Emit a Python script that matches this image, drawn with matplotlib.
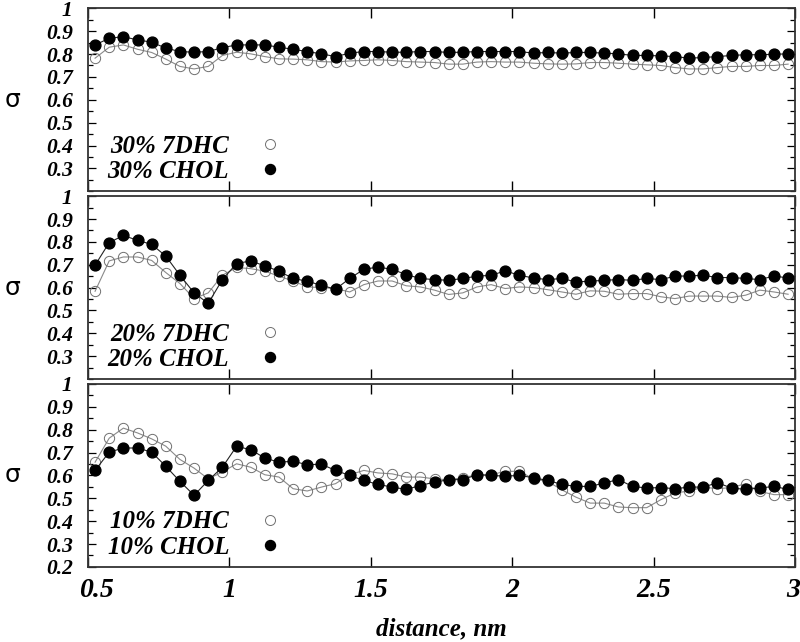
import numpy as np
import matplotlib
matplotlib.use("Agg")
import matplotlib.pyplot as plt
import matplotlib.transforms as mtransforms
from matplotlib.lines import Line2D
from matplotlib.ticker import MultipleLocator

# bin centres, nm
distance = np.round(np.arange(0.525, 3.0, 0.05), 3)

chol_30 = [0.840, 0.869, 0.876, 0.862, 0.852, 0.826, 0.811, 0.808, 0.811, 0.828,
           0.840, 0.840, 0.840, 0.830, 0.821, 0.811, 0.801, 0.789, 0.804, 0.811,
           0.811, 0.808, 0.808, 0.811, 0.811, 0.807, 0.808, 0.811, 0.811, 0.811,
           0.811, 0.804, 0.807, 0.804, 0.807, 0.807, 0.804, 0.801, 0.794, 0.794,
           0.792, 0.789, 0.782, 0.785, 0.789, 0.794, 0.797, 0.797, 0.799, 0.801]
dhc_30 = [0.782, 0.830, 0.840, 0.821, 0.807, 0.778, 0.746, 0.735, 0.746, 0.794,
          0.808, 0.801, 0.789, 0.779, 0.778, 0.775, 0.767, 0.765, 0.770, 0.772,
          0.775, 0.772, 0.767, 0.765, 0.763, 0.756, 0.756, 0.765, 0.767, 0.765,
          0.765, 0.760, 0.757, 0.756, 0.757, 0.763, 0.763, 0.760, 0.756, 0.753,
          0.750, 0.741, 0.735, 0.735, 0.741, 0.746, 0.746, 0.750, 0.750, 0.756]

chol_20 = [0.698, 0.797, 0.828, 0.807, 0.789, 0.738, 0.654, 0.577, 0.531, 0.635,
           0.705, 0.717, 0.695, 0.672, 0.640, 0.628, 0.610, 0.593, 0.640, 0.680,
           0.690, 0.680, 0.657, 0.640, 0.635, 0.632, 0.640, 0.650, 0.654, 0.673,
           0.654, 0.642, 0.635, 0.640, 0.625, 0.628, 0.632, 0.635, 0.632, 0.640,
           0.635, 0.650, 0.651, 0.654, 0.644, 0.644, 0.640, 0.635, 0.651, 0.642]
dhc_20 = [0.584, 0.717, 0.734, 0.734, 0.719, 0.666, 0.618, 0.552, 0.577, 0.654,
          0.688, 0.683, 0.672, 0.650, 0.629, 0.603, 0.600, 0.596, 0.581, 0.613,
          0.629, 0.629, 0.608, 0.603, 0.589, 0.570, 0.577, 0.603, 0.613, 0.596,
          0.603, 0.600, 0.591, 0.581, 0.571, 0.586, 0.584, 0.571, 0.574, 0.574,
          0.560, 0.552, 0.563, 0.563, 0.563, 0.557, 0.567, 0.589, 0.581, 0.571]

chol_10 = [0.622, 0.702, 0.720, 0.720, 0.702, 0.640, 0.574, 0.513, 0.578, 0.636,
           0.727, 0.713, 0.676, 0.658, 0.662, 0.647, 0.649, 0.622, 0.600, 0.578,
           0.561, 0.549, 0.539, 0.556, 0.571, 0.581, 0.582, 0.603, 0.600, 0.597,
           0.600, 0.590, 0.578, 0.561, 0.552, 0.552, 0.567, 0.582, 0.552, 0.545,
           0.547, 0.542, 0.549, 0.549, 0.568, 0.545, 0.539, 0.545, 0.552, 0.539]
dhc_10 = [0.658, 0.763, 0.807, 0.786, 0.760, 0.728, 0.670, 0.632, 0.585, 0.615,
          0.651, 0.636, 0.603, 0.593, 0.542, 0.532, 0.549, 0.564, 0.603, 0.622,
          0.611, 0.607, 0.593, 0.593, 0.585, 0.581, 0.590, 0.603, 0.603, 0.618,
          0.618, 0.585, 0.574, 0.537, 0.505, 0.479, 0.479, 0.462, 0.459, 0.459,
          0.494, 0.523, 0.532, 0.549, 0.542, 0.547, 0.564, 0.530, 0.516, 0.516]

panels = [("30%", dhc_30, chol_30), ("20%", dhc_20, chol_20), ("10%", dhc_10, chol_10)]

font = "Liberation Serif"

fig, axes = plt.subplots(3, 1, figsize=(8, 6.42), dpi=100, sharex=True)
fig.subplots_adjust(left=0.110, right=0.994, top=0.987, bottom=0.117, hspace=0.027)

for i, (ax, (pct, dhc, chol)) in enumerate(zip(axes, panels)):
    ax.plot(distance, dhc, "-o", color="#8a8a8a", lw=0.8, ms=7.4,
            mfc="none", mec="#707070", mew=0.7, clip_on=False, zorder=2)
    ax.plot(distance, chol, "-o", color="#222222", lw=0.8, ms=7.8,
            mfc="black", mec="black", clip_on=False, zorder=3)

    ax.set_xlim(0.5, 3.0)
    ax.set_ylim(0.2, 1.0)
    ax.xaxis.set_major_locator(MultipleLocator(0.5))
    ax.yaxis.set_major_locator(MultipleLocator(0.1))
    ax.yaxis.set_minor_locator(MultipleLocator(0.05))
    ax.tick_params(axis="x", which="major", direction="in", top=True, bottom=True,
                   length=7, width=1.0, pad=8)
    ax.tick_params(axis="y", which="major", direction="in", left=True, right=True,
                   length=6, width=0.9, pad=11)
    ax.tick_params(axis="y", which="minor", direction="in", left=True, right=True,
                   length=3.5, width=0.9)
    for sp in ax.spines.values():
        sp.set_linewidth(1.3)
        sp.set_color("#333333")

    yt = [0.2, 0.3, 0.4, 0.5, 0.6, 0.7, 0.8, 0.9, 1.0] if i == 2 else \
         [0.3, 0.4, 0.5, 0.6, 0.7, 0.8, 0.9, 1.0]
    ax.set_yticks(yt)
    ax.set_yticklabels([("%g" % v) for v in yt], fontfamily=font,
                       fontweight="bold", fontstyle="italic", fontsize=15.5)

    ax.set_ylabel("σ", fontsize=18, fontfamily="DejaVu Sans", rotation=0,
                  ha="center", va="center")
    ax.yaxis.set_label_coords(-0.107, 0.5)

    handles = [Line2D([], [], ls="none", marker="o", ms=7.2, mfc="none",
                      mec="#707070", mew=0.7),
               Line2D([], [], ls="none", marker="o", ms=7.2, mfc="black", mec="black")]
    ax.legend(handles, [f"{pct} 7DHC", f"{pct} CHOL"], loc="lower left",
              bbox_to_anchor=(-0.004, -0.079), frameon=False, markerfirst=False,
              handlelength=1.2, handletextpad=1.05, labelspacing=0.1,
              prop={"family": font, "weight": "bold", "style": "italic", "size": 18})

axes[2].set_xticks([0.5, 1, 1.5, 2, 2.5, 3])
axes[2].set_xticklabels(["0.5", "1", "1.5", "2", "2.5", "3"], fontfamily=font,
                        fontweight="bold", fontstyle="italic", fontsize=20)
xlabs = axes[2].get_xticklabels()
xlabs[0].set_transform(xlabs[0].get_transform() +
                       mtransforms.ScaledTranslation(8 / 100, 0, fig.dpi_scale_trans))
xlabs[-1].set_ha("right")
xlabs[-1].set_transform(xlabs[-1].get_transform() +
                        mtransforms.ScaledTranslation(5 / 100, 0, fig.dpi_scale_trans))
axes[2].set_xlabel("distance, nm", fontfamily=font, fontweight="bold",
                   fontstyle="italic", fontsize=18, labelpad=10)

plt.savefig("out.png", dpi=100)
